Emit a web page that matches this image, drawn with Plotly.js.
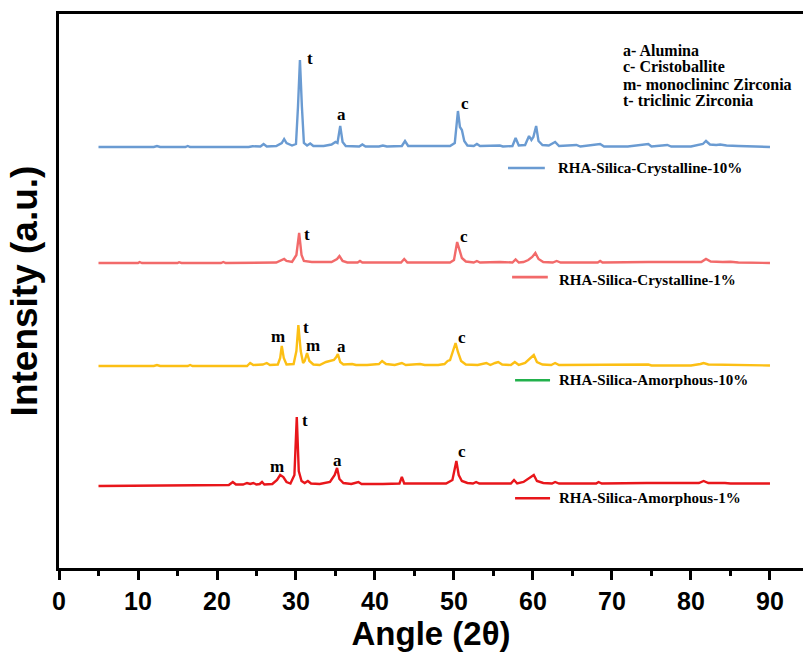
<!DOCTYPE html>
<html>
<head>
<meta charset="utf-8">
<script src="https://cdn.plot.ly/plotly-3.0.1.min.js"></script>
<style>html,body{margin:0;padding:0;background:#fff;}#chart{width:803px;height:656px;}</style>
</head>
<body>
<div id="chart"></div>
<script>
// ---- Data (angle 2θ, intensity a.u. above each pattern's own baseline) ----
const seriesNames = ["RHA-Silica-Crystalline-10%", "RHA-Silica-Crystalline-1%", "RHA-Silica-Amorphous-10%", "RHA-Silica-Amorphous-1%"];

const cryst10Angle = [5,12,12.4,12.8,16,16.3,16.6,24,24.5,25.5,25.9,26.3,27.5,28.2,28.5,28.8,29.5,30,30.25,30.5,30.75,31,31.4,31.8,32.2,33.5,34.5,35,35.25,35.6,35.9,36.3,38,38.4,38.8,40.5,41,41.5,43.4,43.8,44.2,45,45.4,46.2,49.5,50.1,50.3,50.5,50.75,51,51.3,51.7,52.5,52.9,53.3,55.5,55.8,56.2,57.4,57.8,58.2,59,59.5,59.8,60.05,60.4,60.7,61.2,62,62.8,63.3,65.5,66,68.5,69,72,74.6,75,77,77.5,80,81.5,81.9,82.4,83.2,83.7,84.5,86,88,90];
const cryst10Int   = [0,0,1,0,0,1,0,0,0.8,0.5,3,0.5,1,4,8,4,1.5,3,40,87,40,4,1.5,3.5,1,1,2.5,5,4,21,5,1,0.5,2.5,0.5,0.5,1.5,0.5,1,6,1,1,1.5,0.8,1,4,20,36,20,17,6,1.5,1,3,1,1,1.5,0.5,1,9,1.5,2,11,7,10,21,6,2,1.5,5,1,2,0.5,3,0.5,0.5,3,0.5,2,0.5,0.5,3,6,2.5,2,2.5,1.5,1,0.5,0];

const cryst1Angle = [5,10,10.2,10.5,15,15.2,15.5,20.5,20.8,21.1,27.5,28.2,28.5,28.8,29.5,30.05,30.4,30.7,31,32,34.5,35.2,35.5,35.9,36.5,37.8,38.1,38.4,43.3,43.7,44.1,49.5,50,50.4,50.7,51,51.5,52.5,52.9,53.3,55.8,57.4,57.8,58.2,58.8,59.4,59.9,60.3,60.7,61.3,62.5,63,63.5,66.8,68.2,68.5,68.8,74.6,81.3,81.9,82.5,84,85,86,90];
const cryst1Int   = [0,0,1,0,0,0.8,0,0,1,0,0.5,2.5,4,2,1,8,30,8,2,1,1,4,7,2,0.5,0.5,2,0.5,0.5,4,0.5,0.5,3,21,12,5,1.5,0.5,2,0.5,1,0.5,3.5,0.5,1,3,6,10,4,1,0.5,2,0.5,1,0.5,2,0.5,1,1,4,1.5,1,1.2,0.5,0];

const amor10Angle = [5,12,12.4,12.8,16.3,16.6,16.9,23.8,24.2,24.6,25.8,26.3,26.7,27.7,28,28.2,28.45,28.8,29.7,30.05,30.3,30.6,30.9,31.1,31.4,31.7,32.2,33,33.8,34.2,34.8,35.1,35.3,35.6,36,37.1,37.6,39,40.5,40.9,41.4,42.5,43.4,43.9,45.2,45.7,46.3,48,48.8,49.2,49.5,49.9,50.2,50.5,50.9,51.5,53,54.1,54.6,55.2,55.6,56.1,57.2,57.7,58.2,59,59.4,59.8,60.1,60.5,61.2,62.3,62.8,63.3,66,68,74.6,75,80,81.2,81.6,82.2,85,90];
const amor10Int   = [0,0,1,0,0,1,0,0,3,1,1.5,3,1,1.5,8,20,8,1.5,2,15,41,15,3,5,13,5,1.5,1,4,5,6,9,12,4,1.5,2,1,1,2,5,2,1,3,1,2,2,1,1,2,5,6,15,23,14,5,1.5,1,3,1,3,4,1.5,1,4,1,3,6,9,11,4,1.5,1,3,1,1,0.8,1.5,0.5,0.5,2,3,1.5,1,0.5];

const amor1Angle = [5,10,15,21.5,22,22.4,23.3,23.8,24.2,24.6,25,25.4,25.7,26,27,27.6,28,28.4,28.8,29.3,29.8,30.1,30.35,30.7,31.1,31.5,31.9,33,34.3,34.9,35.2,35.5,36,37,37.9,38.3,41,43.1,43.4,43.7,45,49,49.8,50.1,50.3,50.6,51,51.7,52.4,52.8,53.2,55.5,57.2,57.6,58,58.8,59.4,59.8,60.1,60.5,61.3,62.4,62.8,63.3,66.6,68,68.3,68.7,74.4,80,81,81.6,82.2,84.3,85,90];
const amor1Int   = [-1,-0.5,0,0,3,0.5,0.5,2,1,2,0.5,1,3,0.5,1,5,10,8,3,1.5,10,68,14,4,2,4,1.5,1,3,10,17,6,2,1,3,1,1,1.5,8,1.5,1.5,1.5,5,17,24,10,4,2,1.5,3,1.5,1.5,1.5,5,1.5,3,6,8,10,4,2,1.5,3,1.5,2,1.5,3,1.5,2,1.5,2,4,2,2,1.5,1.5];

// vertical stacking offsets of the four patterns (a.u.)
const offsets = [421, 305, 202, 83];

// peak labels: [letter, angle, intensity position]
const labelsC10 = [["t", 31.8, 510], ["a", 35.7, 454], ["c", 51.4, 465]];
const labelsC1  = [["t", 31.4, 334], ["c", 51.3, 332]];
const labelsA10 = [["m", 27.7, 232], ["t", 31.3, 241], ["m", 32.2, 223], ["a", 35.7, 222], ["c", 51.0, 231]];
const labelsA1  = [["m", 27.6, 102], ["t", 31.1, 148], ["a", 35.2, 108], ["c", 51.0, 117]];

const keyLines = ["a- Alumina", "c- Cristoballite", "m- monoclininc Zirconia", "t- triclinic Zirconia"];

const xTickVals = [0,10,20,30,40,50,60,70,80,90];

// ---- Styling ----
const colors = ["#6a9bd2", "#f26a6a", "#fcbf14", "#e8161b"];
const legendColors = ["#6a9bd2", "#f26a6a", "#22b14c", "#e8161b"];
const serif = "Liberation Serif, Times New Roman, serif";
const sans = "Liberation Sans, Arial, sans-serif";

const angles = [cryst10Angle, cryst1Angle, amor10Angle, amor1Angle];
const ints = [cryst10Int, cryst1Int, amor10Int, amor1Int];

const traces = angles.map((a, i) => ({
  x: a,
  y: ints[i].map(v => v + offsets[i]),
  type: "scatter",
  mode: "lines",
  name: seriesNames[i],
  line: {color: colors[i], width: 2.4},
  showlegend: false,
  hoverinfo: "x+name"
}));

const annotations = [];
[labelsC10, labelsC1, labelsA10, labelsA1].forEach(list => {
  list.forEach(l => annotations.push({
    x: l[1], y: l[2], xref: "x", yref: "y", text: "<b>" + l[0] + "</b>",
    showarrow: false, font: {family: serif, size: 17, color: "#000"}
  }));
});

// key text (top right)
const keyY = [0.935, 0.9045, 0.8735, 0.8435];
keyLines.forEach((t, i) => annotations.push({
  x: 0.755, y: keyY[i], xref: "paper", yref: "paper", xanchor: "left", yanchor: "middle",
  text: "<b>" + t + "</b>", showarrow: false, font: {family: serif, size: 16, color: "#000"}
}));

// legend entries
const legPos = [
  {x0: 0.6035, x1: 0.653, yl: 0.722, xt: 0.668, yt: 0.722},
  {x0: 0.609, x1: 0.657, yl: 0.525, xt: 0.669, yt: 0.519},
  {x0: 0.613, x1: 0.660, yl: 0.339, xt: 0.669, yt: 0.339},
  {x0: 0.613, x1: 0.660, yl: 0.126, xt: 0.670, yt: 0.126}
];
const shapes = [];
legPos.forEach((p, i) => {
  shapes.push({type: "line", xref: "paper", yref: "paper", x0: p.x0, x1: p.x1, y0: p.yl, y1: p.yl,
    line: {color: legendColors[i], width: 2.6}});
  annotations.push({x: p.xt, y: p.yt, xref: "paper", yref: "paper", xanchor: "left", yanchor: "middle",
    text: "<b>" + seriesNames[i] + "</b>", showarrow: false, font: {family: serif, size: 15, color: "#000"}});
});

const layout = {
  width: 803, height: 656,
  margin: {l: 59, r: 0, t: 14, b: 88},
  paper_bgcolor: "#fff", plot_bgcolor: "#fff",
  showlegend: false,
  xaxis: {
    range: [0, 94.18], showgrid: false, zeroline: false,
    showline: true, linecolor: "#000", linewidth: 3, mirror: true,
    ticks: "outside", ticklen: 9, tickwidth: 3, tickcolor: "#000",
    tickvals: xTickVals, ticktext: xTickVals.map(String),
    minor: {dtick: 5, tick0: 5, ticks: "outside", ticklen: 5, tickwidth: 3, tickcolor: "#000", showgrid: false},
    tickfont: {family: sans, size: 25, color: "#000", weight: "bold"},
    title: {text: "<b>Angle (2θ)</b>", font: {family: sans, size: 33, color: "#000"}, standoff: 6}
  },
  yaxis: {
    range: [0, 554], showgrid: false, zeroline: false,
    showline: true, linecolor: "#000", linewidth: 3, mirror: false,
    ticks: "", showticklabels: false,
    title: {text: "<b>Intensity (a.u.)</b>", font: {family: sans, size: 37, color: "#000"}, standoff: 8}
  },
  annotations: annotations,
  shapes: shapes
};

Plotly.newPlot("chart", traces, layout, {displayModeBar: false, staticPlot: true});
</script>
</body>
</html>
